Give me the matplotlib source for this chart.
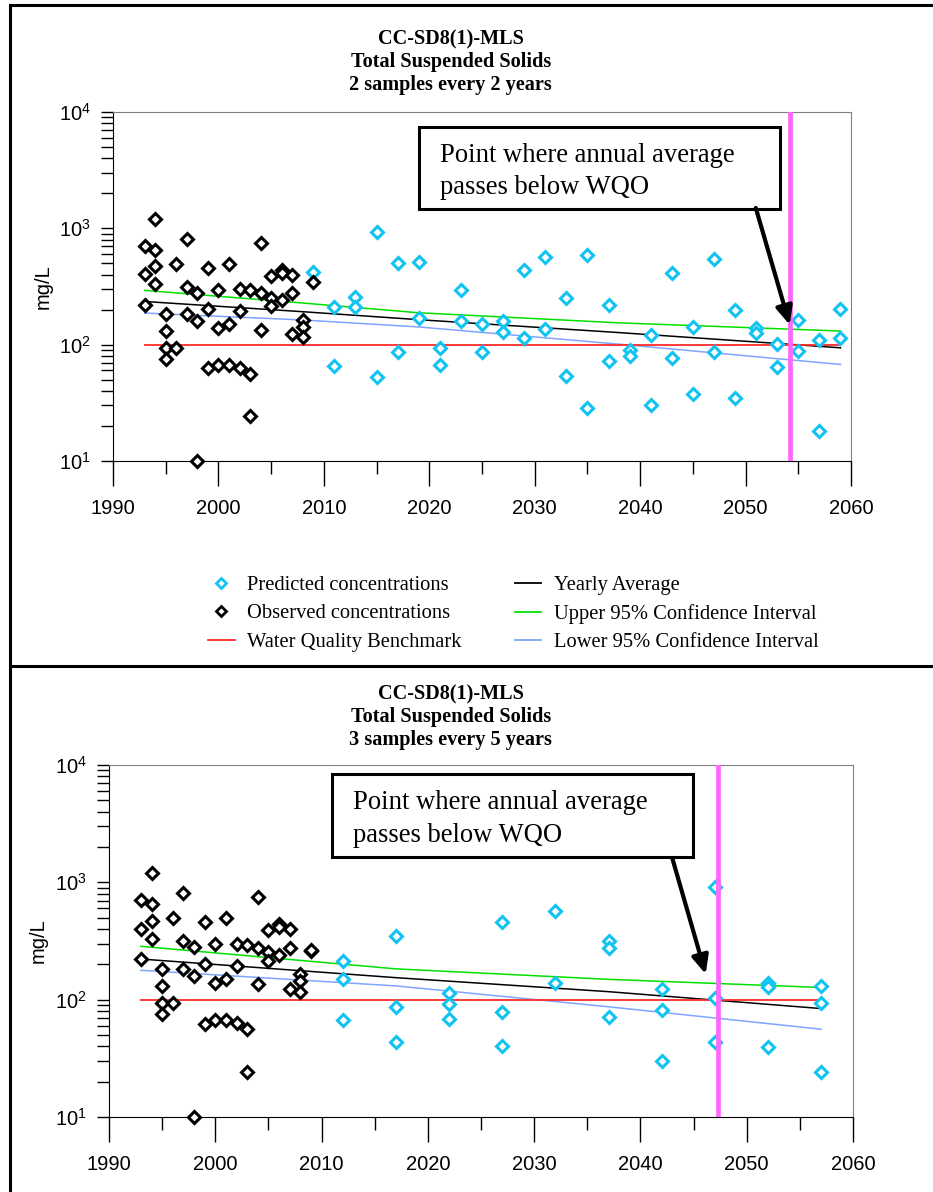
import numpy as np
import matplotlib
matplotlib.use("Agg")
import matplotlib.pyplot as plt
from matplotlib.lines import Line2D
from matplotlib.patches import Rectangle
from matplotlib.ticker import LogLocator, MultipleLocator, NullFormatter

plt.rcParams['font.family'] = ['Liberation Sans', 'DejaVu Sans']
SERIF = ['Liberation Serif', 'DejaVu Serif']

# observed concentrations (same in both panels up to 2008)
obs_years = ([1993] * 3 + [1994] * 4 + [1995] * 4 + [1996] * 2 + [1997] * 3 + [1998] * 3 +
             [1999] * 3 + [2000] * 3 + [2001] * 3 + [2002] * 3 + [2003] * 3 + [2004] * 3 +
             [2005] * 3 + [2006] * 3 + [2007] * 3 + [2008] * 3)
obs_vals = [705, 402, 221, 1200, 648, 472, 330, 184, 131, 93, 75, 493, 93,
            810, 315, 182, 280, 159, 10, 460, 202, 62.6, 296, 139, 67,
            495, 150, 67, 298, 194, 63, 293, 56, 24.2, 753, 276, 135,
            389, 254, 213, 440, 415, 241, 400, 276, 124, 164, 143, 117]
obs_2009_top = [345]
obs_2009_bot = [259, 265]

# panel 1: 2 samples every 2 years
pred_years_top = [2009, 2011, 2011, 2013, 2013, 2015, 2015, 2017, 2017, 2019, 2019,
                  2021, 2021, 2023, 2023, 2025, 2025, 2027, 2027, 2029, 2029,
                  2031, 2031, 2033, 2033, 2035, 2035, 2037, 2037, 2039, 2039,
                  2041, 2041, 2043, 2043, 2045, 2045, 2047, 2047, 2049, 2049,
                  2051, 2051, 2053, 2053, 2055, 2055, 2057, 2057, 2059, 2059]
pred_vals_top = [424, 212, 66, 255, 212, 936, 52.3, 503, 86, 513, 168,
                 93, 66.8, 295, 160, 150, 86, 161, 128, 438, 113,
                 570, 137, 250, 53.7, 586, 28.3, 221, 72.3, 90, 80,
                 122, 30, 410, 77, 143, 37.6, 545, 86, 198, 35,
                 138, 127, 102, 64, 163, 89, 110, 18.1, 202, 115]
line_years_top = [1993, 2008, 2019, 2038, 2059]
avg_top = [235, 192, 164, 127, 94]
upper_top = [293, 228, 188, 154, 131]
lower_top = [187, 163, 142, 101, 67.6]
cross_top = 2054.2

# panel 2: 3 samples every 5 years
pred_years_bot = [2012] * 3 + [2017] * 3 + [2022] * 3 + [2027] * 3 + [2032] * 2 + \
                 [2037] * 3 + [2042] * 3 + [2047] * 3 + [2052] * 3 + [2057] * 3
pred_vals_bot = [212, 151, 66.6, 351, 86, 43.2, 115, 92, 68, 459, 79, 40.2,
                 566, 139, 318, 277, 71, 123, 82, 29.8, 918, 102.5, 43.2,
                 139, 127, 39.7, 131, 93, 24.1]
line_years_bot = [1993, 2017, 2037, 2057]
avg_bot = [222, 154, 117, 84]
upper_bot = [285, 183, 149, 127]
lower_bot = [178, 131, 87, 56]
cross_bot = 2047.3

benchmark = 100
titles = ["CC-SD8(1)-MLS\nTotal Suspended Solids\n2 samples every 2 years",
          "CC-SD8(1)-MLS\nTotal Suspended Solids\n3 samples every 5 years"]
note = "Point where annual average\npasses below WQO"

CYAN = '#12C3F2'
MAGENTA = '#FF66FF'
GREEN = '#00E000'
BLUE = '#7FA5FF'
RED = '#FF2A2A'

fig = plt.figure(figsize=(9.33, 11.92), dpi=100)
W, H = 933, 1192


def px_axes(l, t, r, b):
    return [l / W, 1 - b / H, (r - l) / W, (b - t) / H]


def draw_panel(ax, obs_x, obs_y, pred_x, pred_y, lyears, avg, upper, lower, cross,
               box, arrow_from, arrow_to):
    mk = dict(marker='D', ls='none', ms=6.3, mew=2.2, mfc='white', clip_on=False)
    ax.plot(lyears, upper, color=GREEN, lw=1.1, zorder=2)
    ax.plot(lyears, lower, color=BLUE, lw=1.1, zorder=2)
    ax.plot(lyears, avg, color='black', lw=1.1, zorder=2)
    ax.plot([lyears[0], lyears[-1]], [benchmark, benchmark], color=RED, lw=1.3, zorder=2)
    ax.plot(pred_x, pred_y, mec=CYAN, zorder=3, **mk)
    ax.plot(obs_x, obs_y, mec='black', zorder=4, **mk)
    ax.axvline(cross, color=MAGENTA, lw=3.4, zorder=5)

    ax.set_yscale('log')
    ax.set_ylim(10, 1e4)
    ax.set_xlim(1990, 2060)
    ax.xaxis.set_major_locator(MultipleLocator(10))
    ax.xaxis.set_minor_locator(MultipleLocator(5))
    ax.yaxis.set_minor_locator(LogLocator(base=10, subs=np.arange(2, 10)))
    ax.yaxis.set_minor_formatter(NullFormatter())
    ax.tick_params(axis='x', which='major', direction='out', length=18, width=1, pad=9, labelsize=14.5)
    ax.tick_params(axis='x', which='minor', direction='out', length=9, width=1)
    ax.tick_params(axis='y', which='both', direction='out', length=9, width=1, pad=7, labelsize=14.5)
    for s in ('top', 'right'):
        ax.spines[s].set_color('#808080')
    ax.set_ylabel('mg/L', fontsize=14.5)
    ax.yaxis.set_label_coords(-0.082, 0.5)

    x0, y0, x1, y1 = box
    ax.add_patch(Rectangle((x0, y0), x1 - x0, y1 - y0, transform=ax.transAxes,
                           fc='white', ec='black', lw=2.2, zorder=6))
    ax.text(x0 + 0.028, (y0 + y1) / 2 - 0.01, note, transform=ax.transAxes, family=SERIF,
            fontsize=19.2, va='center', ha='left', linespacing=1.38, zorder=7)
    ax.annotate('', xy=arrow_to, xycoords='axes fraction', xytext=arrow_from,
                textcoords='axes fraction', zorder=7,
                arrowprops=dict(arrowstyle='-|>,head_length=1.1,head_width=0.5',
                                lw=3, color='black', shrinkA=0, shrinkB=0))


ax1 = fig.add_axes(px_axes(113, 112, 851, 461))
draw_panel(ax1, obs_years + [2009], obs_vals + obs_2009_top, pred_years_top, pred_vals_top,
           line_years_top, avg_top, upper_top, lower_top, cross_top,
           (0.4146, 0.722, 0.904, 0.957), (0.871, 0.725), (0.917, 0.39))

ax2 = fig.add_axes(px_axes(109, 765, 853, 1117))
draw_panel(ax2, obs_years + [2009, 2009], obs_vals + obs_2009_bot, pred_years_bot, pred_vals_bot,
           line_years_bot, avg_bot, upper_bot, lower_bot, cross_bot,
           (0.2995, 0.739, 0.785, 0.974), (0.757, 0.736), (0.802, 0.406))

fig.text(0.483, 1 - 62 / H, titles[0], ha='center', va='center', family=SERIF,
         fontweight='bold', fontsize=14.6, linespacing=1.2)
fig.text(0.483, 1 - 717 / H, titles[1], ha='center', va='center', family=SERIF,
         fontweight='bold', fontsize=14.6, linespacing=1.2)

# legend (top panel)
handles = [
    Line2D([], [], marker='D', ls='none', ms=5.5, mew=2, mfc='white', mec=CYAN),
    Line2D([], [], marker='D', ls='none', ms=5.5, mew=2, mfc='white', mec='black'),
    Line2D([], [], color=RED, lw=1.3),
    Line2D([], [], color='black', lw=1.3),
    Line2D([], [], color=GREEN, lw=1.3),
    Line2D([], [], color=BLUE, lw=1.3),
]
labels = ['Predicted concentrations', 'Observed concentrations', 'Water Quality Benchmark',
          'Yearly Average', 'Upper 95% Confidence Interval', 'Lower 95% Confidence Interval']
fig.legend(handles, labels, ncol=2, loc='center', bbox_to_anchor=(0.55, 1 - 614 / H),
           frameon=False, prop={'family': SERIF, 'size': 14.8}, handlelength=1.3,
           handletextpad=0.6, columnspacing=2.6, labelspacing=0.44)

# page frame lines
for xs, ys in [([10, 10], [5, H]), ([10, W], [5, 5]), ([10, W], [666, 666])]:
    fig.add_artist(Line2D([x / W for x in xs], [1 - y / H for y in ys],
                          transform=fig.transFigure, color='black', lw=2.2))

fig.savefig('out.png', dpi=100)
